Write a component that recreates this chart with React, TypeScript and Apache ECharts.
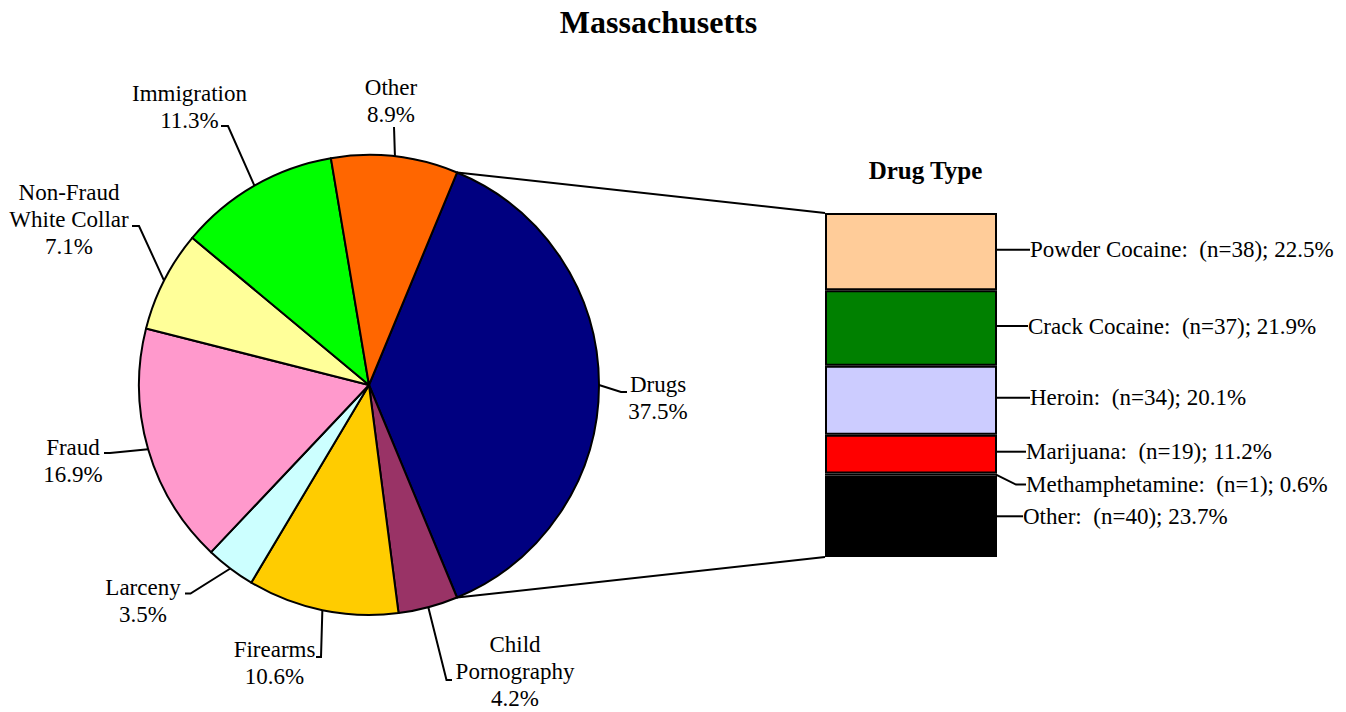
import React, { useEffect, useRef } from 'react';
import * as echarts from 'echarts';

// ---------- data ----------
const PIE_CATEGORIES = ['Drugs', 'Child\nPornography', 'Firearms', 'Larceny', 'Fraud', 'Non-Fraud\nWhite Collar', 'Immigration', 'Other'];
const PIE_VALUES = [37.5, 4.2, 10.6, 3.5, 16.9, 7.1, 11.3, 8.9];
const PIE_COLORS = ['#000080', '#993366', '#FFCC00', '#CCFFFF', '#FF99CC', '#FFFF99', '#00FF00', '#FF6600'];

const DRUG_TYPES = ['Powder Cocaine', 'Crack Cocaine', 'Heroin', 'Marijuana', 'Methamphetamine', 'Other'];
const DRUG_COUNTS = [38, 37, 34, 19, 1, 40];
const DRUG_COLORS = ['#FFCC99', '#008000', '#CCCCFF', '#FF0000', '#663399', '#000000'];

const TITLE = 'Massachusetts';
const BAR_TITLE = 'Drug Type';

// ---------- layout ----------
const FONT = '"Liberation Serif", "Times New Roman", serif';
const PIE_CENTER = [369, 385];
const PIE_RADIUS = 230;
const GRID = { left: 825, top: 213, width: 172, height: 344 };
// label centres and leader-line (end, bend) points for pie labels
const PIE_LABEL_POS = [[658, 398], [515, 671], [274.5, 662.5], [143, 601], [73, 461], [69, 219], [189.5, 106.5], [391, 100.5]];
const PIE_LEADER_END = [[627, 392], [452, 680], [316, 657], [185, 593.5], [104, 453], [132, 226], [221, 126], [394, 127]];
const PIE_LEADER_BEND = [[621, 392], [446.5, 680], [321, 657], [190.5, 593.5], [110, 453], [139, 226], [228, 126], [394, 127]];
// bar label offsets: [gap from bar right edge, vertical shift from segment centre]
const BAR_LABEL_OFFSET = [[29, -2], [27, -2], [29, -2.5], [25, -2.5], [25, 10], [22, 0]];

export default function App() {
  const ref = useRef<HTMLDivElement>(null);

  useEffect(() => {
    document.body.style.margin = '0';
    const chart = echarts.init(ref.current!, null, { renderer: 'svg' });
    const total = DRUG_COUNTS.reduce((a, b) => a + b, 0);
    const pieSum = PIE_VALUES.reduce((a, b) => a + b, 0);
    const startAngle = (PIE_VALUES[0] / pieSum) * 180;

    const barSeries = DRUG_TYPES.map((name, i) => ({
      name,
      type: 'bar',
      stack: 'drugs',
      barWidth: '100%',
      data: [DRUG_COUNTS[i]],
      itemStyle: { color: DRUG_COLORS[i], borderColor: '#000', borderWidth: 2 },
      label: {
        show: true,
        position: 'right',
        formatter: () => `${name}:  (n=${DRUG_COUNTS[i]}); ${((DRUG_COUNTS[i] / total) * 100).toFixed(1)}%`,
        fontFamily: FONT,
        fontSize: 23,
        color: '#000',
        padding: [0, 4],
      },
      labelLine: { show: true, length2: 10, lineStyle: { color: '#000', width: 2 } },
      labelLayout: (p: any) => ({
        x: p.rect.x + p.rect.width + BAR_LABEL_OFFSET[i][0],
        y: p.rect.y + p.rect.height / 2 + BAR_LABEL_OFFSET[i][1],
        align: 'left',
        verticalAlign: 'middle',
      }),
      emphasis: { disabled: true },
      silent: true,
    })).reverse();

    chart.setOption({
      animation: false,
      backgroundColor: '#fff',
      grid: { ...GRID },
      xAxis: { type: 'category', data: ['Drugs'], show: false },
      yAxis: { type: 'value', min: 0, max: total, show: false },
      tooltip: { show: false },
      series: [
        {
          type: 'pie',
          center: PIE_CENTER,
          radius: PIE_RADIUS,
          startAngle,
          clockwise: true,
          avoidLabelOverlap: false,
          silent: true,
          emphasis: { disabled: true },
          data: PIE_CATEGORIES.map((name, i) => ({ name, value: PIE_VALUES[i], itemStyle: { color: PIE_COLORS[i] } })),
          itemStyle: { borderColor: '#000', borderWidth: 2 },
          label: {
            show: true,
            position: 'outside',
            formatter: (p: any) => `${p.name}\n${Number(p.value).toFixed(1)}%`,
            fontFamily: FONT,
            fontSize: 23,
            lineHeight: 27,
            color: '#000',
          },
          labelLine: { show: true, lineStyle: { color: '#000', width: 2 } },
          labelLayout: (p: any) => {
            const i = p.dataIndex;
            const arc = p.labelLinePoints ? p.labelLinePoints[0] : PIE_LEADER_BEND[i];
            return {
              x: PIE_LABEL_POS[i][0],
              y: PIE_LABEL_POS[i][1],
              align: 'center',
              verticalAlign: 'middle',
              labelLinePoints: [arc, PIE_LEADER_BEND[i], PIE_LEADER_END[i]],
            };
          },
        },
        ...barSeries,
      ],
    });

    // connector lines from the Drugs slice to the bar
    const yTop = chart.convertToPixel({ yAxisIndex: 0 }, total) as number;
    const yBot = chart.convertToPixel({ yAxisIndex: 0 }, 0) as number;
    const a = (startAngle * Math.PI) / 180;
    const px = PIE_CENTER[0] + PIE_RADIUS * Math.cos(a);
    const pyTop = PIE_CENTER[1] - PIE_RADIUS * Math.sin(a);
    const pyBot = PIE_CENTER[1] + PIE_RADIUS * Math.sin(a);

    chart.setOption({
      graphic: [
        {
          type: 'text', x: 658.5, y: 21.5, silent: true,
          style: { text: TITLE, fontFamily: FONT, fontSize: 32, fontWeight: 'bold', fill: '#000', align: 'center', verticalAlign: 'middle' },
        },
        {
          type: 'text', x: 925.5, y: 170.5, silent: true,
          style: { text: BAR_TITLE, fontFamily: FONT, fontSize: 25, fontWeight: 'bold', fill: '#000', align: 'center', verticalAlign: 'middle' },
        },
        { type: 'line', silent: true, shape: { x1: px, y1: pyTop, x2: GRID.left, y2: yTop }, style: { stroke: '#000', lineWidth: 2 } },
        { type: 'line', silent: true, shape: { x1: px, y1: pyBot, x2: GRID.left, y2: yBot }, style: { stroke: '#000', lineWidth: 2 } },
      ],
    });

    return () => chart.dispose();
  }, []);

  return <div ref={ref} style={{ width: 1346, height: 712 }} />;
}
